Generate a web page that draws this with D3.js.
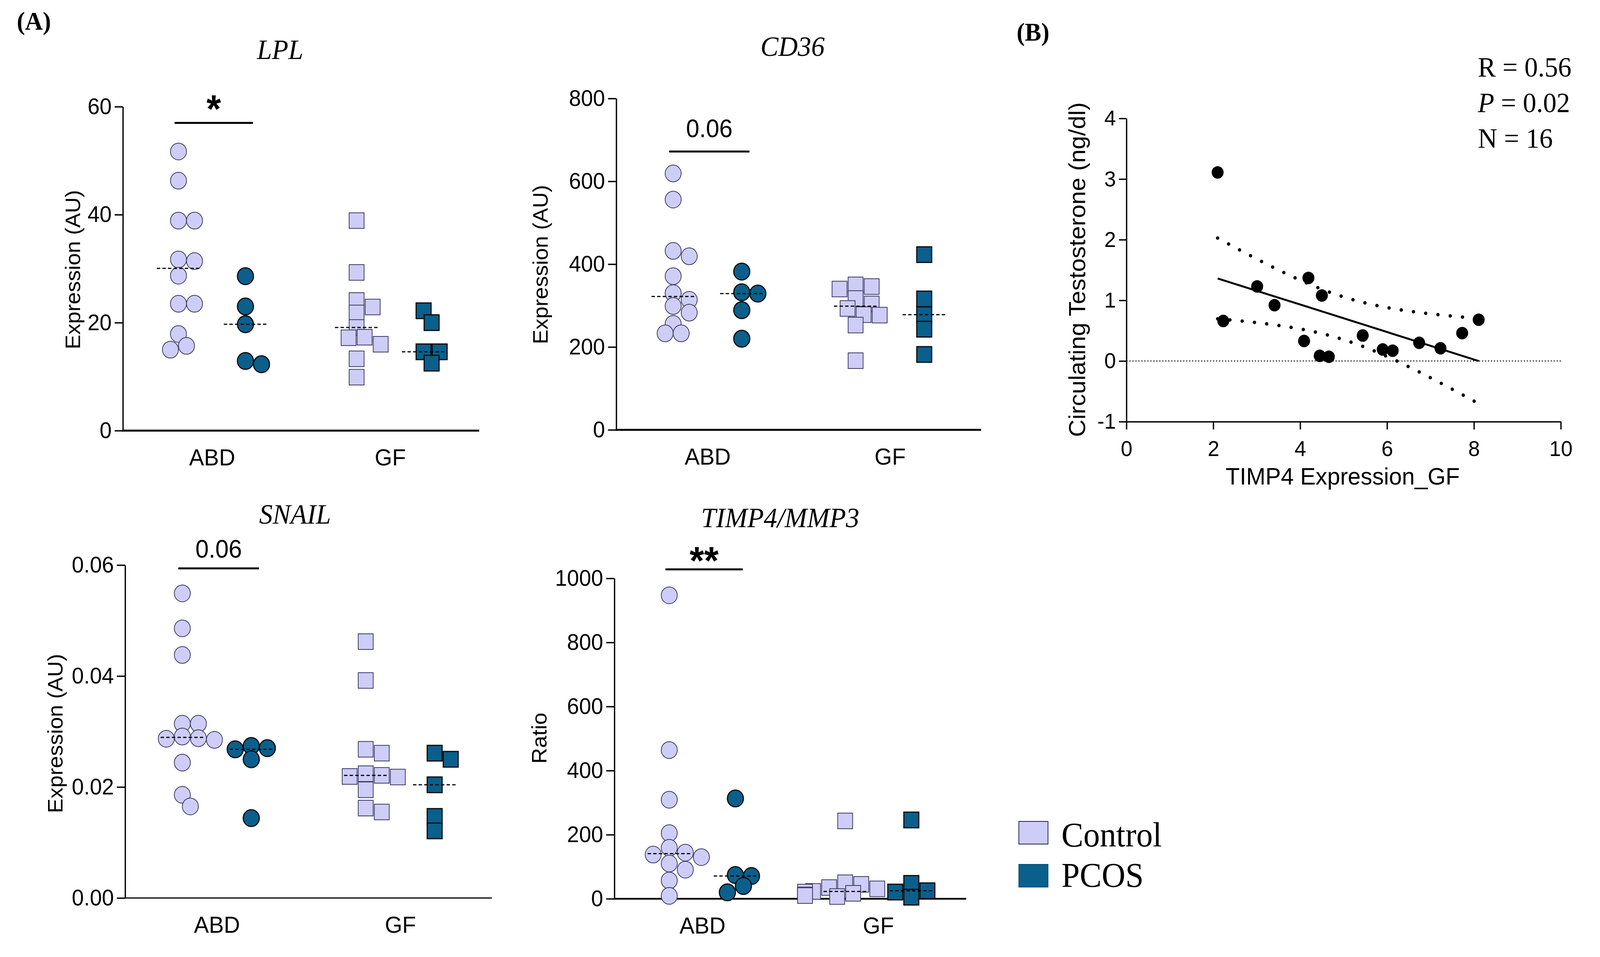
<!DOCTYPE html>
<html>
<head>
<meta charset="utf-8">
<script src="https://cdn.jsdelivr.net/npm/d3@7/dist/d3.min.js"></script>
<style>
  html, body { margin: 0; padding: 0; background: #fff; overflow: hidden; }
  #fig { display: block; width: 100vw; height: 100vh; }
  svg text { font-family: "Liberation Sans", Arial, sans-serif; fill: #000; }
</style>
</head>
<body>
<svg id="fig" viewBox="0 0 4284 2449" preserveAspectRatio="none"></svg>
<script>
// ---- data ----
const groups = ["ABD", "GF"];
const series = ["Control", "PCOS"];

const lplAbdControl = [51.7, 46.3, 38.9, 38.9, 31.7, 31.4, 28.7, 23.5, 23.5, 17.9, 15.7, 15.0];
const lplAbdPcos = [28.6, 23.0, 19.7, 12.9, 12.3];
const lplGfControl = [38.9, 29.3, 24.1, 22.9, 21.8, 19.1, 17.3, 17.2, 16.0, 13.3, 9.9];
const lplGfPcos = [22.2, 20.0, 14.6, 14.6, 12.5];

const cd36AbdControl = [619, 556, 432, 419, 371, 330, 314, 299, 283, 256, 233, 233];
const cd36AbdPcos = [382, 332, 329, 289, 220];
const cd36GfControl = [350, 346, 340, 317, 304, 293, 278, 277, 253, 167];
const cd36GfPcos = [423, 316, 278, 243, 182];

const snailAbdControl = [0.0549, 0.0486, 0.0438, 0.0314, 0.0314, 0.0291, 0.0288, 0.0287, 0.0285, 0.0244, 0.0186, 0.0165];
const snailAbdPcos = [0.0274, 0.0270, 0.0268, 0.0250, 0.0144];
const snailGfControl = [0.0462, 0.0392, 0.0268, 0.0261, 0.0224, 0.0221, 0.0219, 0.0218, 0.0195, 0.0162, 0.0155];
const snailGfPcos = [0.0261, 0.0250, 0.0204, 0.0147, 0.0121];

const ratioAbdControl = [947, 464, 309, 205, 159, 144, 138, 130, 110, 91, 57, 9];
const ratioAbdPcos = [313, 74, 71, 40, 20];
const ratioGfControl = [243, 50, 45, 35, 31, 23, 21, 17, 12, 10, 7];
const ratioGfPcos = [246, 48, 25, 21, 5];

// panel B: TIMP4 expression (GF) vs circulating testosterone
const timp4Gf = [2.10, 2.23, 3.01, 3.41, 4.09, 4.19, 4.50, 4.45, 4.66, 5.44, 5.90, 6.13, 6.74, 7.23, 7.73, 8.11];
const testosterone = [3.11, 0.66, 1.23, 0.92, 0.33, 1.37, 1.08, 0.085, 0.07, 0.42, 0.19, 0.17, 0.30, 0.21, 0.46, 0.68];
const statLines = ["R = 0.56", "P = 0.02", "N = 16"];

const colors = { Control: "#cdcdf7", PCOS: "#0a5f8c" };
const strokes = { Control: "#3a3a5e", PCOS: "#0a0a0a" };

const svg = d3.select("#fig");
svg.append("rect").attr("width", 4284).attr("height", 2449).attr("fill", "#fff");

// simple beeswarm: spread points that would overlap too much
function swarm(values, cx, y, d) {
  const placed = [];
  const order = values.map((v, i) => i).sort((a, b) => values[b] - values[a]);
  const steps = [0, 1, -1, 2, -2, 3, -3, 4, -4, 5, -5];
  order.forEach(i => {
    const py = y(values[i]);
    let px = cx + steps[steps.length - 1] * d / 2;
    for (const k of steps) {
      const tx = cx + k * d / 2;
      if (placed.every(p => Math.hypot(p.x - tx, p.y - py) >= d * 0.72)) { px = tx; break; }
    }
    placed.push({ v: values[i], x: px, y: py });
  });
  return placed;
}

const panels = [
  { title: "LPL", yLabel: "Expression (AU)", ymax: 60, ticks: [0, 20, 40, 60], fmt: d3.format("d"),
    left: 329, right: 1283, top: 273, bottom: 1102, xAxisW: 5,
    titleX: 750, titleY: 151, labelX: 214, labelY: 690,
    data: [[lplAbdControl, lplAbdPcos], [lplGfControl, lplGfPcos]],
    sig: { text: "*", level: 57, star: true, textY: 313 } },
  { title: "CD36", yLabel: "Expression (AU)", ymax: 800, ticks: [0, 200, 400, 600, 800], fmt: d3.format("d"),
    left: 1650, right: 2627, top: 252, bottom: 1100, xAxisW: 5,
    titleX: 2122, titleY: 143, labelX: 1466, labelY: 677,
    data: [[cd36AbdControl, cd36AbdPcos], [cd36GfControl, cd36GfPcos]],
    sig: { text: "0.06", level: 672, star: false, textY: 351 } },
  { title: "SNAIL", yLabel: "Expression (AU)", ymax: 0.06, ticks: [0, 0.02, 0.04, 0.06], fmt: d3.format(".2f"),
    left: 335, right: 1317, top: 1446, bottom: 2298, xAxisW: 3,
    titleX: 790, titleY: 1340, labelX: 167, labelY: 1877,
    data: [[snailAbdControl, snailAbdPcos], [snailGfControl, snailGfPcos]],
    sig: { text: "0.06", level: 0.0594, star: false, textY: 1427 } },
  { title: "TIMP4/MMP3", yLabel: "Ratio", ymax: 1000, ticks: [0, 200, 400, 600, 800, 1000], fmt: d3.format("d"),
    left: 1645, right: 2587, top: 1480, bottom: 2300, xAxisW: 4.5,
    titleX: 2089, titleY: 1349, labelX: 1463, labelY: 1889,
    data: [[ratioAbdControl, ratioAbdPcos], [ratioGfControl, ratioGfPcos]],
    sig: { text: "**", level: 1028, star: true, textY: 1469 } }
];

function drawPanel(p) {
  const g = svg.append("g");
  const y = d3.scaleLinear().domain([0, p.ymax]).range([p.bottom, p.top]);
  const x = d3.scalePoint().domain(groups).range([p.left, p.right]).padding(0.5);
  const w = p.right - p.left;
  const sub = d3.scalePoint().domain(series).range([-0.094 * w, 0.094 * w]);
  const diam = 43;

  // axes
  const ya = g.append("g").attr("transform", `translate(${p.left},0)`)
    .call(d3.axisLeft(y).tickValues(p.ticks).tickFormat(p.fmt).tickSize(22).tickPadding(8).tickSizeOuter(0));
  ya.select(".domain").attr("stroke-width", 3.5);
  ya.selectAll(".tick line").attr("stroke-width", 3.5);
  ya.selectAll("text").attr("font-size", 58).attr("font-family", "Liberation Sans, Arial, sans-serif");

  const xa = g.append("g").attr("transform", `translate(0,${p.bottom})`)
    .call(d3.axisBottom(x).tickSize(0).tickPadding(46).tickSizeOuter(0));
  xa.select(".domain").attr("stroke-width", p.xAxisW).attr("d", `M${p.left - 1.75},0H${p.right}`);
  xa.selectAll("text").attr("font-size", 60).attr("font-family", "Liberation Sans, Arial, sans-serif");

  // titles
  g.append("text").attr("x", p.titleX).attr("y", p.titleY).attr("text-anchor", "middle")
    .style("font-family", "'Liberation Serif', 'Times New Roman', serif").style("font-style", "italic")
    .attr("font-size", 72).text(p.title);
  g.append("text").attr("transform", `translate(${p.labelX},${p.labelY}) rotate(-90)`)
    .attr("text-anchor", "middle").attr("font-size", 56).text(p.yLabel);

  // points
  const medians = [];
  groups.forEach((grp, gi) => {
    series.forEach((s, si) => {
      const vals = p.data[gi][si];
      const cx = x(grp) + sub(s);
      const pts = swarm(vals, cx, y, diam);
      const sel = g.append("g").selectAll(null).data(pts).enter();
      if (grp === "ABD") {
        sel.append("circle").attr("cx", d => d.x).attr("cy", d => d.y).attr("r", diam / 2)
          .attr("fill", colors[s]).attr("stroke", strokes[s]).attr("stroke-width", s === "PCOS" ? 3 : 2);
      } else {
        sel.append("rect").attr("x", d => d.x - 20).attr("y", d => d.y - 20).attr("width", 40).attr("height", 40)
          .attr("fill", colors[s]).attr("stroke", strokes[s]).attr("stroke-width", s === "PCOS" ? 3 : 2);
      }
      medians.push({ cx, m: d3.median(vals) });
    });
  });
  g.append("g").selectAll("line").data(medians).enter().append("line")
    .attr("x1", d => d.cx - 58).attr("x2", d => d.cx + 58)
    .attr("y1", d => y(d.m)).attr("y2", d => y(d.m))
    .attr("stroke", "#000").attr("stroke-width", 3).attr("stroke-dasharray", "9,6");

  // significance bar
  const cAbd = x("ABD");
  const by = y(p.sig.level);
  g.append("line").attr("x1", cAbd - 0.105 * w).attr("x2", cAbd + 0.115 * w)
    .attr("y1", by).attr("y2", by).attr("stroke", "#000").attr("stroke-width", 5);
  g.append("text").attr("x", cAbd + 0.005 * w).attr("y", p.sig.textY).attr("text-anchor", "middle")
    .attr("font-size", p.sig.star ? 100 : 64).attr("font-weight", p.sig.star ? "bold" : "normal")
    .text(p.sig.text);
}

panels.forEach(drawPanel);

// ---- panel B: correlation ----
(function () {
  const g = svg.append("g");
  const x = d3.scaleLinear().domain([0, 10]).range([3016, 4179]);
  const y = d3.scaleLinear().domain([-1, 4]).range([1079, 303]);

  const ya = g.append("g").attr("transform", `translate(${x(0)},0)`)
    .call(d3.axisLeft(y).tickValues([-1, 0, 1, 2, 3, 4]).tickFormat(d => String(d))
      .tickSize(20).tickPadding(8).tickSizeOuter(0));
  const xa = g.append("g").attr("transform", `translate(0,${y(-1)})`)
    .call(d3.axisBottom(x).tickValues([0, 2, 4, 6, 8, 10]).tickFormat(d => String(d))
      .tickSize(20).tickPadding(28).tickSizeOuter(0));
  [ya, xa].forEach(a => {
    a.select(".domain").attr("stroke-width", 3.5);
    a.selectAll(".tick line").attr("stroke-width", 3.5);
    a.selectAll("text").attr("font-size", 56).attr("font-family", "Liberation Sans, Arial, sans-serif");
  });

  // zero reference line
  g.append("line").attr("x1", x(0)).attr("x2", x(10)).attr("y1", y(0)).attr("y2", y(0))
    .attr("stroke", "#000").attr("stroke-width", 2.5).attr("stroke-dasharray", "3,5");

  // linear regression with 95% confidence band
  const n = timp4Gf.length;
  const mx = d3.mean(timp4Gf), my = d3.mean(testosterone);
  const sxx = d3.sum(timp4Gf, v => (v - mx) * (v - mx));
  const sxy = d3.sum(timp4Gf, (v, i) => (v - mx) * (testosterone[i] - my));
  const slope = sxy / sxx, icpt = my - slope * mx;
  const sse = d3.sum(timp4Gf, (v, i) => Math.pow(testosterone[i] - (icpt + slope * v), 2));
  const se = Math.sqrt(sse / (n - 2));
  const tCrit = 2.145; // t(0.975, df = 14)
  const [x0, x1] = d3.extent(timp4Gf);
  const xs = d3.range(61).map(i => x0 + i * (x1 - x0) / 60);
  const half = v => tCrit * se * Math.sqrt(1 / n + (v - mx) * (v - mx) / sxx);
  const line = d3.line().x(d => x(d[0])).y(d => y(d[1]));

  [1, -1].forEach(sgn => {
    g.append("path").attr("d", line(xs.map(v => [v, icpt + slope * v + sgn * half(v)])))
      .attr("fill", "none").attr("stroke", "#000").attr("stroke-width", 9)
      .attr("stroke-linecap", "round").attr("stroke-dasharray", "0,33");
  });

  g.selectAll(".pt").data(timp4Gf).enter().append("circle")
    .attr("cx", d => x(d)).attr("cy", (d, i) => y(testosterone[i])).attr("r", 16).attr("fill", "#000");

  g.append("path").attr("d", line([[x0, icpt + slope * x0], [x1, icpt + slope * x1]]))
    .attr("stroke", "#000").attr("stroke-width", 5).attr("fill", "none");

  g.append("text").attr("transform", "translate(2906,690) rotate(-90)").attr("text-anchor", "middle")
    .attr("font-size", 62).text("Circulating Testosterone (ng/dl)");
  g.append("text").attr("x", 3595).attr("y", 1240).attr("text-anchor", "middle")
    .attr("font-size", 62).text("TIMP4 Expression_GF");

  statLines.forEach((s, i) => {
    const t = g.append("text").attr("x", 3957).attr("y", 196 + i * 91).attr("font-size", 72)
      .style("font-family", "'Liberation Serif', 'Times New Roman', serif");
    if (s.startsWith("P")) {
      t.append("tspan").style("font-style", "italic").text("P");
      t.append("tspan").text(s.slice(1));
    } else {
      t.text(s);
    }
  });
})();

// panel letters
svg.append("text").attr("x", 45).attr("y", 76).attr("font-size", 66).attr("font-weight", "bold")
  .style("font-family", "'Liberation Serif', 'Times New Roman', serif").text("(A)");
svg.append("text").attr("x", 2722).attr("y", 104).attr("font-size", 66).attr("font-weight", "bold")
  .style("font-family", "'Liberation Serif', 'Times New Roman', serif").text("(B)");

// legend
const leg = svg.append("g");
series.forEach((s, i) => {
  leg.append("rect").attr("x", 2728).attr("y", 2102 + i * 110).attr("width", 78).attr("height", 58)
    .attr("fill", colors[s]).attr("stroke", s === "Control" ? "#20204a" : "#0a4a70").attr("stroke-width", 2);
  leg.append("text").attr("x", 2842).attr("y", 2166 + i * 103).attr("font-size", 88)
    .style("font-family", "'Liberation Serif', 'Times New Roman', serif").text(s);
});
</script>
</body>
</html>
